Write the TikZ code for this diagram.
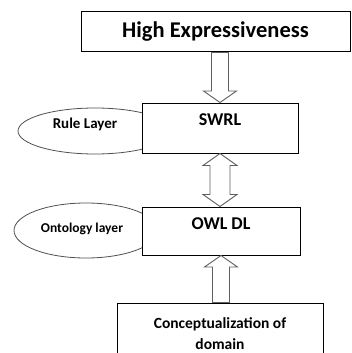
\documentclass[tikz,border=0pt]{standalone}
\usepackage{fontspec}
\setmainfont{Carlito}
\usetikzlibrary{positioning,calc}
\definecolor{arrowgray}{RGB}{95,95,95}
\definecolor{ovalgray}{RGB}{80,80,80}

\begin{document}
\begin{tikzpicture}[x=1pt, y=-1pt,
    layerbox/.style={draw, line width=1pt, fill=white, inner sep=0pt},
    boxtext/.style={font=\bfseries\fontsize{18}{20}\selectfont, inner sep=0pt},
    ovaltext/.style={font=\bfseries\fontsize{15}{17}\selectfont, inner sep=0pt},
    oval/.style={draw=ovalgray, line width=0.8pt},
    hollow/.style={draw=arrowgray, fill=white, line width=0.9pt, to path={
        let \p1=(\tikztostart), \p2=(\tikztotarget),
            \n1={\y2-11.5*sign(\y2-(\y1))} in
        (\x2-8.5pt,\y1) -- (\x2-8.5pt,\n1*1pt) -- (\x2-16.5pt,\n1*1pt) -- (\p2)
        -- (\x2+16.5pt,\n1*1pt) -- (\x2+8.5pt,\n1*1pt) -- (\x2+8.5pt,\y1) -- cycle}},
    hollowboth/.style={draw=arrowgray, fill=white, line width=0.9pt, to path={
        let \p1=(\tikztostart), \p2=(\tikztotarget),
            \n2={\y1+12*sign(\y2-(\y1))}, \n3={\y2-12*sign(\y2-(\y1))} in
        (\p1) -- (\x1+17pt,\n2*1pt) -- (\x1+10pt,\n2*1pt) -- (\x1+10pt,\n3*1pt)
        -- (\x1+17pt,\n3*1pt) -- (\x1,\y2) -- (\x1-17pt,\n3*1pt) -- (\x1-10pt,\n3*1pt)
        -- (\x1-10pt,\n2*1pt) -- (\x1-17pt,\n2*1pt) -- cycle}},
    ]
    \useasboundingbox (0,0) rectangle (351,353);
    \clip (0,0) rectangle (351,353);

    % Layer ovals (behind the boxes)
    \draw[oval] (95,131) ellipse [x radius=77pt, y radius=23pt];
    \draw[oval] (86,230.5) ellipse [x radius=72pt, y radius=27.5pt];
    \node[ovaltext] (rulelbl) at (85,124) {Rule Layer};
    \node[ovaltext, font=\bfseries\fontsize{13.5}{15}\selectfont] (ontolbl) at (82,229) {Ontology layer};

    % Boxes
    \node[layerbox, minimum width=269pt, minimum height=40pt,
          font=\bfseries\fontsize{22.5}{25}\selectfont] (top) at (215.5,32) {High Expressiveness};
    \node[layerbox, minimum width=156pt, minimum height=50pt] (swrl) at (220,128) {};
    \node[boxtext, below=11pt of swrl.north] (swrltext) {SWRL};
    \node[layerbox, minimum width=158pt, minimum height=48pt] (owl) at (221,231) {};
    \node[boxtext, below=11pt of owl.north] (owltext) {OWL DL};
    \node[layerbox, minimum width=206pt, minimum height=62pt, align=center,
          font=\bfseries\fontsize{15.5}{21}\selectfont] (concept) at (220,334) {Conceptualization of\\domain};

    % Block arrows
    \draw[hollow] (top.south -| swrl.north) to (swrl.north);
    \draw[hollowboth] (swrl.south) to (owl.north);
    \draw[hollow] (concept.north) to (owl.south);
\end{tikzpicture}
\end{document}
